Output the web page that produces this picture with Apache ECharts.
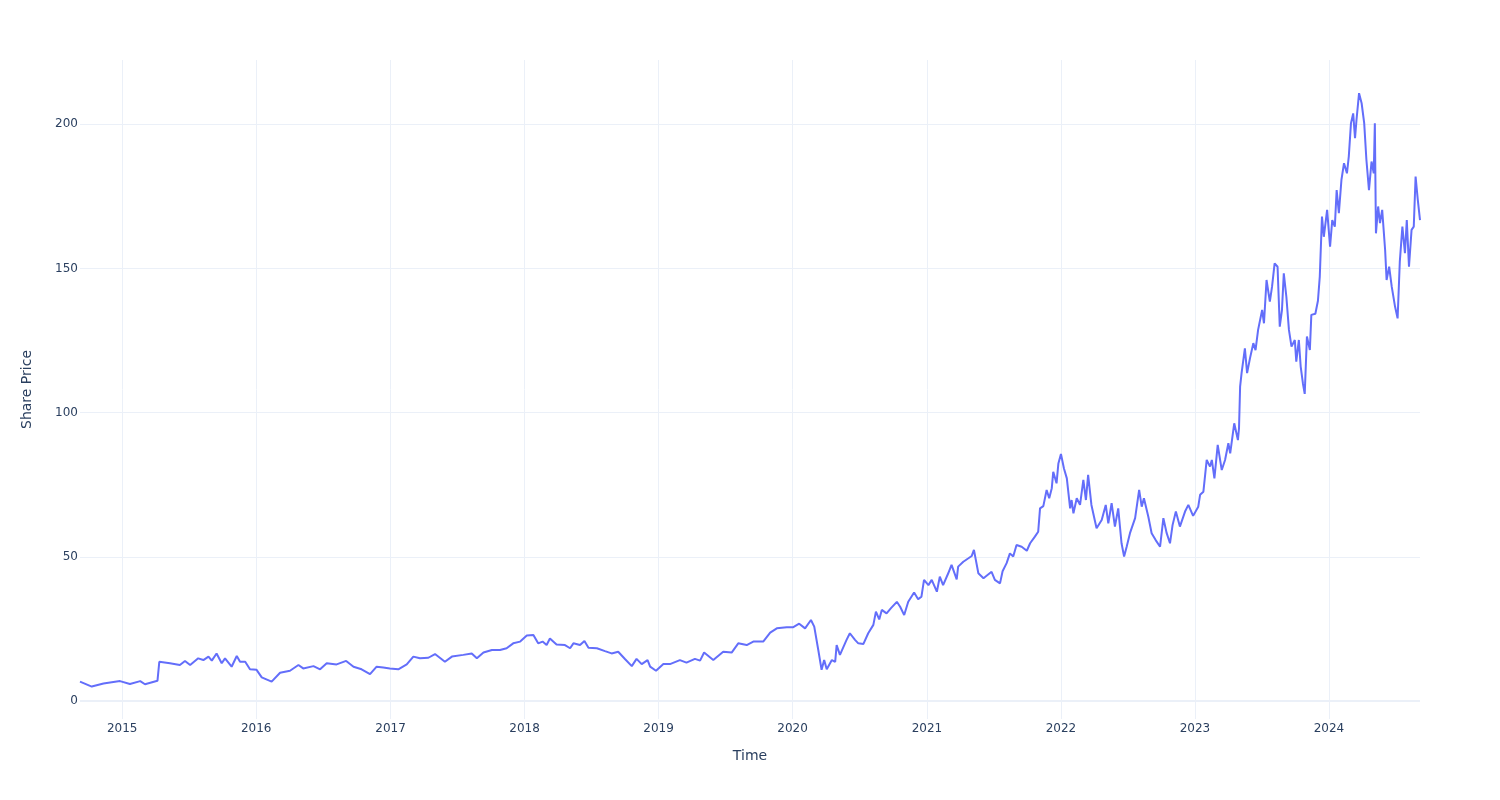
<!DOCTYPE html>
<html>
<head>
<meta charset="utf-8">
<script src="https://cdn.jsdelivr.net/npm/echarts@6/dist/echarts.min.js"></script>
<style>
html,body{margin:0;padding:0;background:#fff;}
#chart{width:1500px;height:800px;}
</style>
</head>
<body>
<div id="chart"></div>
<script>
const dates = [
'2014-09-08','2014-10-10','2014-11-11','2014-12-26','2015-01-22','2015-02-19','2015-03-04','2015-04-07','2015-04-12','2015-05-11',
'2015-06-07','2015-06-21','2015-07-05','2015-07-27','2015-08-10','2015-08-24','2015-09-02','2015-09-15','2015-09-29','2015-10-08',
'2015-10-26','2015-11-09','2015-11-18','2015-12-02','2015-12-15','2016-01-02','2016-01-16','2016-02-12','2016-03-06','2016-04-02',
'2016-04-25','2016-05-08','2016-06-05','2016-06-23','2016-07-11','2016-08-07','2016-09-02','2016-09-22','2016-10-14','2016-11-06',
'2016-11-24','2016-12-12','2016-12-30','2017-01-22','2017-02-14','2017-03-04','2017-03-22','2017-04-14','2017-05-02','2017-05-29',
'2017-06-17','2017-07-18','2017-08-10','2017-08-24','2017-09-11','2017-10-04','2017-10-26','2017-11-13','2017-12-01','2017-12-20',
'2018-01-07','2018-01-25','2018-02-07','2018-02-19','2018-03-02','2018-03-11','2018-03-29','2018-04-21','2018-05-05','2018-05-14',
'2018-06-01','2018-06-13','2018-06-24','2018-07-17','2018-08-08','2018-08-26','2018-09-13','2018-10-02','2018-10-20','2018-11-02',
'2018-11-16','2018-12-02','2018-12-09','2018-12-25','2019-01-14','2019-02-01','2019-02-28','2019-03-18','2019-04-10','2019-04-24',
'2019-05-05','2019-05-30','2019-06-26','2019-07-19','2019-08-06','2019-08-29','2019-09-16','2019-10-13','2019-11-01','2019-11-19',
'2019-12-16','2020-01-03','2020-01-19','2020-02-04','2020-02-20','2020-02-29','2020-03-11','2020-03-20','2020-03-27','2020-04-03',
'2020-04-17','2020-04-26','2020-04-30','2020-05-09','2020-05-27','2020-06-05','2020-06-19','2020-06-28','2020-07-12','2020-07-25',
'2020-08-08','2020-08-15','2020-08-24','2020-08-31','2020-09-13','2020-09-25','2020-10-11','2020-10-20','2020-10-31','2020-11-11',
'2020-11-27','2020-12-08','2020-12-17','2020-12-24','2021-01-05','2021-01-14','2021-01-28','2021-02-05','2021-02-14','2021-02-28',
'2021-03-09','2021-03-23','2021-03-27','2021-04-10','2021-04-24','2021-05-03','2021-05-09','2021-05-21','2021-06-04','2021-06-26',
'2021-07-05','2021-07-19','2021-07-26','2021-08-06','2021-08-15','2021-08-24','2021-09-02','2021-09-16','2021-09-30','2021-10-09',
'2021-10-22','2021-10-31','2021-11-05','2021-11-14','2021-11-23','2021-11-30','2021-12-07','2021-12-11','2021-12-20','2021-12-25',
'2022-01-01','2022-01-09','2022-01-17','2022-01-26','2022-01-30','2022-02-04','2022-02-13','2022-02-22','2022-03-03','2022-03-10',
'2022-03-16','2022-03-25','2022-04-03','2022-04-08','2022-04-22','2022-05-03','2022-05-10','2022-05-19','2022-05-28','2022-06-06',
'2022-06-15','2022-06-22','2022-06-29','2022-07-08','2022-07-22','2022-08-02','2022-08-09','2022-08-15','2022-08-27','2022-09-05',
'2022-09-16','2022-09-28','2022-10-07','2022-10-16','2022-10-25','2022-11-01','2022-11-10','2022-11-21','2022-12-05','2022-12-14',
'2022-12-27','2023-01-10','2023-01-15','2023-01-24','2023-02-02','2023-02-11','2023-02-16','2023-02-23','2023-03-04','2023-03-15',
'2023-03-24','2023-04-02','2023-04-07','2023-04-18','2023-04-28','2023-05-01','2023-05-04','2023-05-08','2023-05-17','2023-05-23',
'2023-05-31','2023-06-09','2023-06-15','2023-06-22','2023-07-03','2023-07-08','2023-07-15','2023-07-24','2023-07-30','2023-08-06',
'2023-08-14','2023-08-20','2023-08-26','2023-08-31','2023-09-07','2023-09-14','2023-09-21','2023-09-30','2023-10-04','2023-10-11',
'2023-10-16','2023-10-22','2023-10-27','2023-11-02','2023-11-10','2023-11-14','2023-11-25','2023-12-02','2023-12-07','2023-12-13',
'2023-12-18','2023-12-27','2024-01-04','2024-01-10','2024-01-17','2024-01-22','2024-01-28','2024-02-04','2024-02-11','2024-02-19',
'2024-02-24','2024-03-01','2024-03-07','2024-03-12','2024-03-16','2024-03-23','2024-03-30','2024-04-06','2024-04-12','2024-04-19',
'2024-04-26','2024-05-02','2024-05-05','2024-05-08','2024-05-14','2024-05-19','2024-05-25','2024-06-02','2024-06-06','2024-06-13',
'2024-06-20','2024-06-29','2024-07-06','2024-07-12','2024-07-19','2024-07-26','2024-07-31','2024-08-06','2024-08-13','2024-08-19',
'2024-08-24','2024-08-30','2024-09-05'
];
const prices = [
6.7,5.0,6.1,6.9,5.9,6.9,5.8,7.0,13.6,13.1,
12.5,13.9,12.5,14.8,14.2,15.4,14.0,16.5,13.1,14.8,
11.9,15.6,13.6,13.6,11.0,10.8,8.2,6.7,9.8,10.5,
12.5,11.3,12.1,11.0,13.1,12.7,13.9,11.9,11.0,9.3,
11.9,11.6,11.3,11.0,12.7,15.4,14.8,15.0,16.3,13.6,
15.4,16.0,16.5,14.8,16.8,17.7,17.7,18.3,20.0,20.6,
22.7,22.9,20.0,20.6,19.4,21.7,19.6,19.4,18.3,20.0,
19.4,20.8,18.5,18.3,17.3,16.5,17.1,14.5,12.1,14.6,
12.8,14.2,11.9,10.5,12.8,12.8,14.2,13.3,14.6,14.0,
16.8,14.2,17.1,16.8,20.0,19.4,20.6,20.6,23.7,25.2,
25.6,25.6,26.8,25.2,28.1,25.8,17.7,10.8,14.2,11.0,
14.2,13.6,19.4,16.0,21.2,23.5,21.2,20.0,19.8,23.5,
26.4,31.0,28.3,31.6,30.4,32.2,34.4,32.7,29.8,34.4,
37.6,35.3,36.2,42.0,40.2,42.0,37.9,43.1,40.2,44.3,
47.2,42.2,46.6,48.3,49.5,50.3,52.4,44.3,42.6,44.8,
42.0,40.8,45.0,47.8,51.2,50.1,54.1,53.5,52.1,54.7,
57.0,58.7,66.8,67.6,73.2,70.3,73.8,79.5,75.5,82.4,
85.7,80.7,77.2,66.8,69.7,65.1,70.3,68.0,76.7,69.7,
78.4,68.0,62.8,59.9,62.8,68.0,61.6,68.6,60.5,66.8,
54.7,50.1,53.5,58.2,63.4,73.2,67.4,70.3,63.9,58.2,
55.8,53.5,63.4,58.2,54.7,61.0,65.7,60.5,65.7,68.0,
64.2,67.4,71.5,72.6,83.6,81.3,83.6,77.2,88.8,80.1,
83.6,89.4,85.9,96.3,90.5,94.6,109.0,113.7,122.3,113.7,
118.9,124.1,121.7,128.7,135.6,131.0,146.0,138.5,143.7,151.8,
150.6,129.8,135.6,148.3,140.2,128.7,122.9,125.2,117.7,125.2,
116.0,110.2,106.5,126.4,121.7,133.9,134.3,138.8,147.2,168.0,
161.0,170.3,157.6,166.8,164.5,177.2,169.2,180.7,186.5,183.0,
188.8,200.4,203.8,195.2,201.5,210.8,207.3,200.4,187.7,177.2,
187.1,183.0,200.4,162.2,171.5,165.7,170.3,156.4,146.0,150.6,
143.7,136.8,132.7,152.4,164.5,155.3,166.8,150.6,163.4,164.5,
181.9,173.8,166.8
];
const yTickValues = [0, 50, 100, 150, 200];
const xTitle = 'Time';
const yTitle = 'Share Price';

const seriesData = dates.map((d, i) => [d, prices[i]]);
const chart = echarts.init(document.getElementById('chart'), null, {renderer: 'canvas'});
const font = 'DejaVu Sans, Verdana, sans-serif';
const gridColor = '#EBF0F8';
const textColor = '#2a3f5f';
const ONE_YEAR = 365 * 24 * 3600 * 1000;
chart.setOption({
  animation: false,
  textStyle: {fontFamily: font, color: textColor},
  grid: {left: 80, right: 80, top: 60, bottom: 81, containLabel: false},
  xAxis: {
    type: 'time',
    min: dates[0],
    max: dates[dates.length - 1],
    minInterval: ONE_YEAR,
    maxInterval: ONE_YEAR,
    name: xTitle,
    nameLocation: 'middle',
    nameGap: 30,
    nameTextStyle: {fontSize: 14, color: textColor, fontFamily: font},
    axisLine: {show: false},
    axisTick: {show: false},
    axisLabel: {
      fontSize: 12, color: textColor, fontFamily: font, margin: 4,
      showMinLabel: false, showMaxLabel: false,
      formatter: '{yyyy}'
    },
    splitLine: {show: true, showMinLine: false, showMaxLine: false, lineStyle: {color: gridColor, width: 1}}
  },
  yAxis: {
    type: 'value',
    min: -6.24,
    max: 222.3,
    name: yTitle,
    nameLocation: 'middle',
    nameGap: 46,
    nameTextStyle: {fontSize: 14, color: textColor, fontFamily: font},
    axisLine: {show: false},
    axisTick: {show: false},
    axisLabel: {
      fontSize: 12, color: textColor, fontFamily: font, margin: 2,
      showMinLabel: false, showMaxLabel: false,
      formatter: v => (yTickValues.indexOf(v) >= 0 ? String(v) : '')
    },
    splitLine: {show: true, showMinLine: false, showMaxLine: false, lineStyle: {color: gridColor, width: 1}}
  },
  series: [{
    type: 'line',
    data: seriesData,
    showSymbol: false,
    symbol: 'none',
    sampling: null,
    lineStyle: {color: '#636efa', width: 2},
    itemStyle: {color: '#636efa'},
    z: 3,
    markLine: {
      silent: true,
      symbol: 'none',
      label: {show: false},
      lineStyle: {color: gridColor, width: 2, type: 'solid'},
      data: [{yAxis: 0}],
      z: 1
    }
  }]
});
</script>
</body>
</html>
